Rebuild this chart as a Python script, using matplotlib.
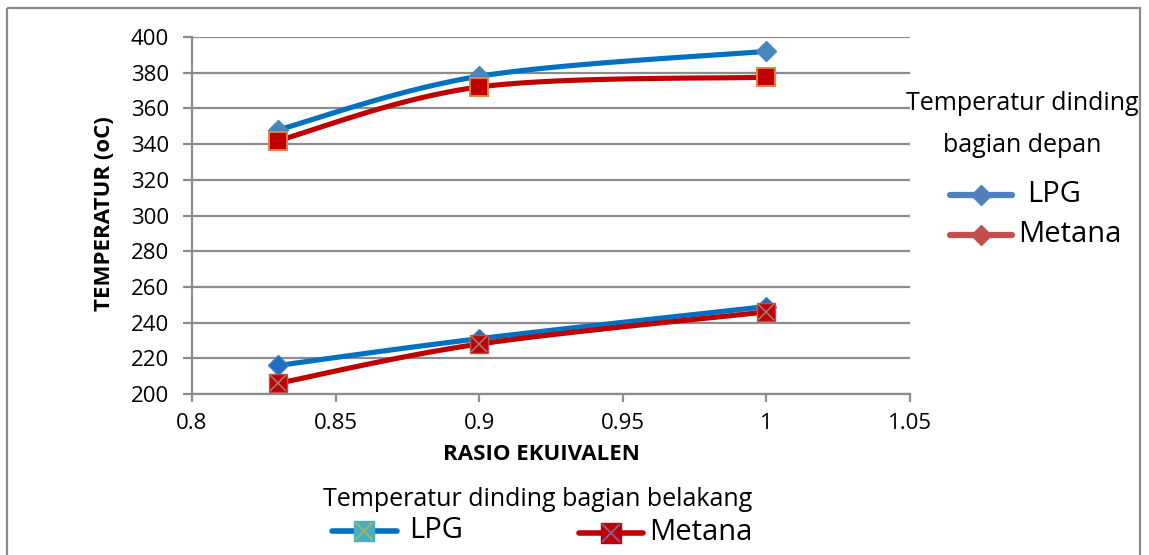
import numpy as np
import matplotlib
matplotlib.use("Agg")
import matplotlib.pyplot as plt
from matplotlib.patches import Rectangle

plt.rcParams['font.family'] = ['Open Sans', 'DejaVu Sans']

# ---- data ----
rasio = [0.83, 0.9, 1.0]
depan_lpg = [348, 378, 392]
depan_metana = [342, 372, 377.5]
belakang_lpg = [216, 231, 249]
belakang_metana = [206, 228, 246]
x_ticks = [0.8, 0.85, 0.9, 0.95, 1.0, 1.05]
x_ticklabels = ['0.8', '0.85', '0.9', '0.95', '1', '1.05']
y_ticks = list(range(200, 401, 20))

W, H = 1149, 555
fig = plt.figure(figsize=(W / 100, H / 100), dpi=100)
fig.patch.set_facecolor('white')


def px(x0, y0, x1, y1):
    return [x0 / W, 1 - y1 / H, (x1 - x0) / W, (y1 - y0) / H]


ax = fig.add_axes(px(192, 37, 910, 394))


def smooth(x, y, n=40):
    pts = np.column_stack([x, y]).astype(float)
    P = np.vstack([pts[0], pts, pts[-1]])
    out = []
    t = np.linspace(0, 1, n)[:, None]
    for i in range(len(pts) - 1):
        p0, p1, p2, p3 = P[i], P[i + 1], P[i + 2], P[i + 3]
        c1 = p1 + (p2 - p0) / 6.0
        c2 = p2 - (p3 - p1) / 6.0
        seg = ((1 - t) ** 3) * p1 + 3 * ((1 - t) ** 2) * t * c1 + 3 * (1 - t) * t ** 2 * c2 + t ** 3 * p2
        out.append(seg if i == 0 else seg[1:])
    s = np.vstack(out)
    return s[:, 0], s[:, 1]


grid_c = '#8c8c8c'
for yv in y_ticks:
    ax.axhline(yv, color=grid_c, lw=1.6, zorder=1)

LW = 3.7
# front wall
sx, sy = smooth(rasio, depan_lpg)
ax.plot(sx, sy, color='#0070C0', lw=LW, zorder=3, solid_capstyle='round')
ax.plot(rasio, depan_lpg, ls='none', marker='D', ms=10.5, mfc='#4A86BE', mec='#4A86BE', zorder=4)
sx, sy = smooth(rasio, depan_metana)
ax.plot(sx, sy, color='#C00000', lw=LW, zorder=5, solid_capstyle='round')
ax.plot(rasio, depan_metana, ls='none', marker='s', ms=13, mfc='#C00000', mec='#E8803A', mew=1.4, zorder=6)

# back wall
sx, sy = smooth(rasio, belakang_lpg)
ax.plot(sx, sy, color='#0070C0', lw=LW, zorder=3, solid_capstyle='round')
ax.plot(rasio, belakang_lpg, ls='none', marker='D', ms=10.5, mfc='#1F6EC0', mec='#3F7FC0', zorder=4)
sx, sy = smooth(rasio, belakang_metana)
ax.plot(sx, sy, color='#C00000', lw=LW, zorder=5, solid_capstyle='round')
ax.plot(rasio, belakang_metana, ls='none', marker='s', ms=13, mfc='#C00000', mec='#C0504D', mew=1.0, zorder=6)
ax.plot(rasio, belakang_metana, ls='none', marker='x', ms=12, mec='#A07878', mew=1.2, zorder=7)

ax.set_xlim(0.8, 1.05)
ax.set_ylim(200, 400)
ax.set_xticks(x_ticks)
ax.set_xticklabels(x_ticklabels)
ax.set_yticks(y_ticks)
for s in ['top', 'right']:
    ax.spines[s].set_visible(False)
for s in ['left', 'bottom']:
    ax.spines[s].set_color(grid_c)
    ax.spines[s].set_linewidth(1.6)
ax.tick_params(axis='y', length=6.5, width=1.6, color=grid_c, labelsize=16, pad=10)
ax.tick_params(axis='x', length=6, width=1.6, color=grid_c, labelsize=16, pad=8)
ax.set_facecolor('none')

# overlay in pixel coords
ov = fig.add_axes([0, 0, 1, 1])
ov.set_xlim(0, W)
ov.set_ylim(H, 0)
ov.axis('off')
ov.patch.set_alpha(0)

ov.add_patch(Rectangle((7, 8), 1133, 560, fill=False, ec='#8a8a8a', lw=1.6, clip_on=False))

ov.text(105, 214, 'TEMPERATUR (oC)', rotation=90, ha='center', va='center',
        fontsize=16, fontweight='bold')
ov.text(541, 455, 'RASIO EKUIVALEN', ha='center', va='center', fontsize=16, fontweight='bold')

# front legend
ov.text(1022, 103, 'Temperatur dinding', ha='center', va='center', fontsize=18)
ov.text(1022, 145, 'bagian depan', ha='center', va='center', fontsize=18)
ov.plot([950, 1012], [195, 195], color='#4F81BD', lw=4.5, solid_capstyle='round')
ov.plot([981], [195], marker='D', ms=10.5, color='#4F81BD')
ov.text(1027, 195, 'LPG', ha='left', va='center', fontsize=21)
ov.plot([950, 1012], [235, 235], color='#C0504D', lw=4.5, solid_capstyle='round')
ov.plot([981], [235], marker='D', ms=10.5, color='#C0504D')
ov.text(1018, 235, 'Metana', ha='left', va='center', fontsize=21)

# back legend
ov.text(538, 499, 'Temperatur dinding bagian belakang', ha='center', va='center', fontsize=18)
ov.plot([332, 397], [531, 531], color='#0070C0', lw=4.0, solid_capstyle='round')
ov.plot([364], [531], marker='s', ms=14, mfc='#4BACC6', mec='#4BACC6')
ov.plot([364], [531], marker='x', ms=13, mec='#9BBB59', mew=1.3)
ov.text(409, 531, 'LPG', ha='left', va='center', fontsize=21)
ov.plot([579, 643], [533, 533], color='#C00000', lw=4.0, solid_capstyle='round')
ov.plot([611], [533], marker='s', ms=14, mfc='#C00000', mec='#C00000')
ov.plot([611], [533], marker='x', ms=13, mec='#8064A2', mew=1.3)
ov.text(649, 533, 'Metana', ha='left', va='center', fontsize=21)

fig.savefig('out.png', dpi=100)
